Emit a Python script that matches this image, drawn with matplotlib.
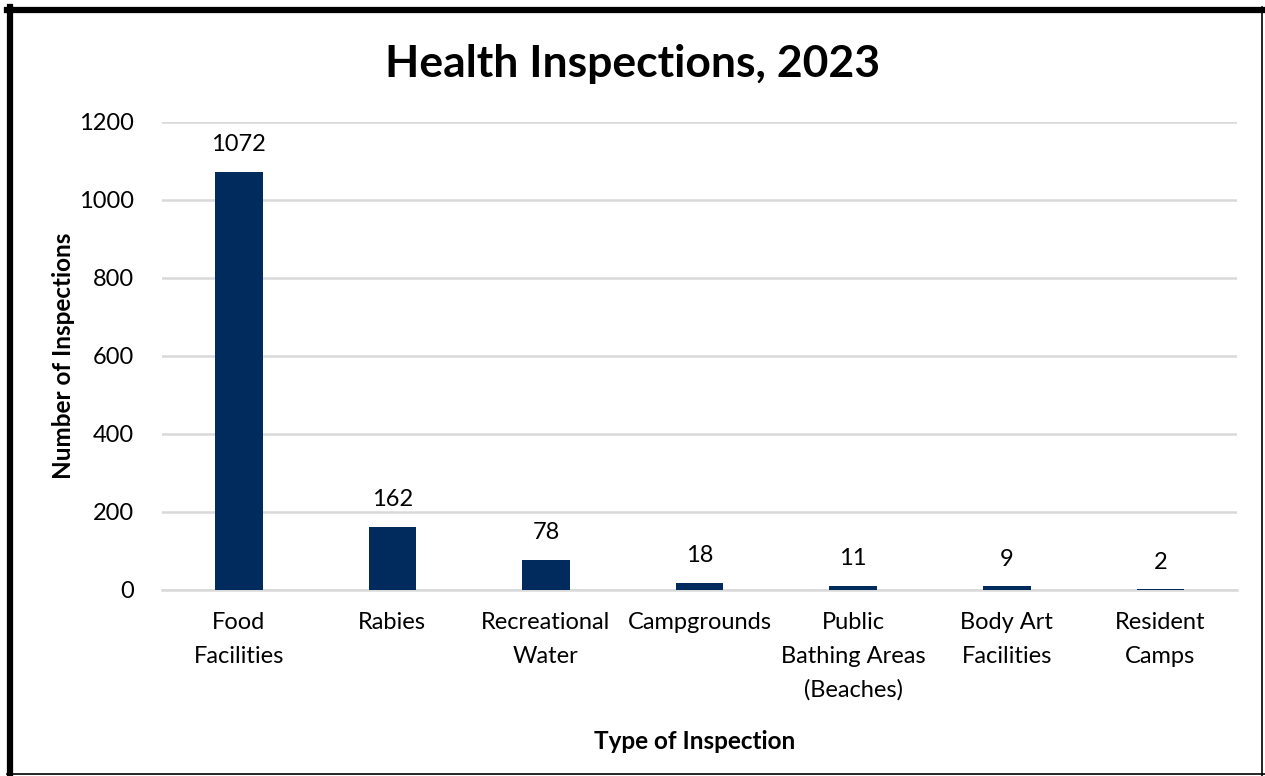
import matplotlib

matplotlib.use("Agg")
import matplotlib.pyplot as plt
from matplotlib.lines import Line2D

NAVY = "#002B5C"
GRID = "#D9D9D9"
TEXT = "#000000"

categories = [
    "Food\nFacilities",
    "Rabies",
    "Recreational\nWater",
    "Campgrounds",
    "Public\nBathing Areas\n(Beaches)",
    "Body Art\nFacilities",
    "Resident\nCamps",
]
inspections = [1072, 162, 78, 18, 11, 9, 2]
y_ticks = [0, 200, 400, 600, 800, 1000, 1200]

plt.rcParams["font.family"] = ["Lato", "DejaVu Sans"]

fig = plt.figure(figsize=(12.65, 7.76), dpi=100)
ax = fig.add_axes([0.128, 0.2397, 0.85, 0.6031])

x = list(range(len(categories)))
bars = ax.bar(x, inspections, width=0.31, color=NAVY, zorder=3)

ax.set_xlim(-0.5, len(categories) - 0.5)
ax.set_ylim(0, 1200)
ax.set_yticks(y_ticks)
ax.set_xticks(x)
ax.set_xticklabels(categories, fontsize=17, color=TEXT, linespacing=1.73)
ax.tick_params(axis="y", labelsize=17, colors=TEXT, length=0, pad=20)
ax.tick_params(axis="x", length=0, pad=16)
ax.grid(axis="y", color=GRID, linewidth=1.8, zorder=0)
for side in ["top", "right", "left"]:
    ax.spines[side].set_visible(False)
ax.spines["bottom"].set_color(GRID)
ax.spines["bottom"].set_linewidth(1.8)

for bar, v in zip(bars, inspections):
    ax.annotate(
        f"{v}",
        (bar.get_x() + bar.get_width() / 2, v),
        xytext=(0, 12),
        textcoords="offset points",
        ha="center",
        va="bottom",
        fontsize=17,
        color=TEXT,
    )

fig.text(0.5, 0.918, "Health Inspections, 2023", ha="center", va="center",
         fontsize=32, fontweight="bold", color=TEXT)
fig.text(0.05, 0.541, "Number of Inspections", ha="center", va="center",
         rotation=90, fontsize=17.5, fontweight="bold", color=TEXT)
fig.text(0.549, 0.045, "Type of Inspection", ha="center", va="center",
         fontsize=17.5, fontweight="bold", color=TEXT)

# frame: heavy on left/top, thin on right/bottom
W, H = 1265, 776
fig.add_artist(Line2D([10 / W, 10 / W], [0, 1 - 7 / H], color="black", linewidth=4.5, transform=fig.transFigure))
fig.add_artist(Line2D([7 / W, 1], [1 - 10 / H, 1 - 10 / H], color="black", linewidth=4.5, transform=fig.transFigure))
fig.add_artist(Line2D([1 - 3 / W, 1 - 3 / W], [0, 1 - 7 / H], color="black", linewidth=1.2, transform=fig.transFigure))
fig.add_artist(Line2D([7 / W, 1], [2 / H, 2 / H], color="black", linewidth=1.2, transform=fig.transFigure))

fig.savefig("out.png", dpi=100, facecolor="white")
